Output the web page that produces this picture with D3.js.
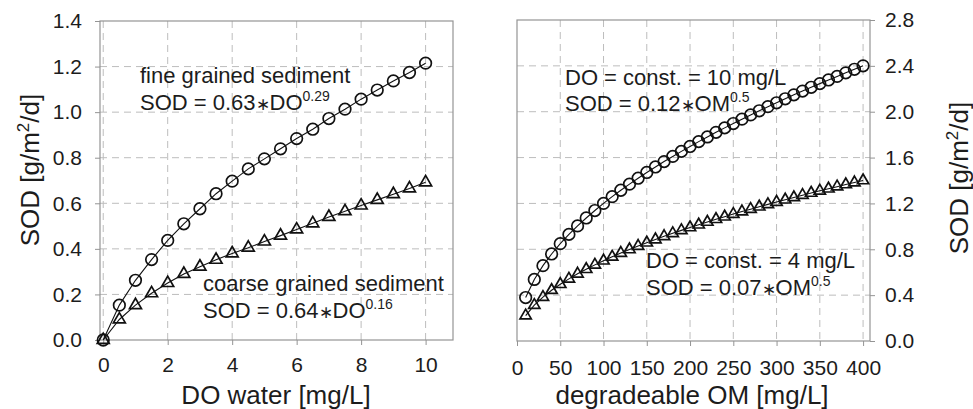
<!DOCTYPE html>
<html>
<head>
<meta charset="utf-8">
<script src="https://cdn.jsdelivr.net/npm/d3@7"></script>
<style>
  body { margin: 0; background: #fff; }
  text { font-family: "Liberation Sans", Arial, sans-serif; fill: #1c1c1c; }
</style>
</head>
<body>
<svg id="chart" width="973" height="409"></svg>
<script>
// Left panel: SOD against dissolved oxygen for two sediment types
const doWater   = [0, 0.5, 1, 1.5, 2, 2.5, 3, 3.5, 4, 4.5, 5, 5.5, 6, 6.5, 7, 7.5, 8, 8.5, 9, 9.5, 10];
const sodFine   = [0, 0.153, 0.262, 0.353, 0.437, 0.51, 0.576, 0.642, 0.697, 0.751, 0.795, 0.839, 0.884, 0.925, 0.972, 1.013, 1.057, 1.097, 1.137, 1.174, 1.215];
const sodCoarse = [0, 0.09, 0.153, 0.205, 0.25, 0.29, 0.322, 0.352, 0.38, 0.405, 0.432, 0.458, 0.485, 0.512, 0.54, 0.565, 0.59, 0.615, 0.64, 0.665, 0.692];

// Right panel: SOD against degradable organic matter at two DO levels
const omValues = [10, 20, 30, 40, 50, 60, 70, 80, 90, 100, 110, 120, 130, 140, 150, 160, 170, 180, 190, 200,
                  210, 220, 230, 240, 250, 260, 270, 280, 290, 300, 310, 320, 330, 340, 350, 360, 370, 380, 390, 400];
const sodDo10 = [0.379, 0.537, 0.657, 0.759, 0.849, 0.930, 1.004, 1.073, 1.138, 1.200, 1.259, 1.315, 1.368, 1.420, 1.470, 1.518, 1.565, 1.610, 1.654, 1.697,
                 1.739, 1.780, 1.820, 1.859, 1.897, 1.935, 1.972, 2.008, 2.044, 2.078, 2.113, 2.147, 2.180, 2.213, 2.245, 2.277, 2.308, 2.339, 2.370, 2.400];
const sodDo4  = [0.221, 0.313, 0.383, 0.443, 0.495, 0.542, 0.586, 0.626, 0.664, 0.700, 0.734, 0.767, 0.798, 0.828, 0.857, 0.885, 0.913, 0.939, 0.965, 0.990,
                 1.014, 1.038, 1.062, 1.084, 1.107, 1.129, 1.150, 1.171, 1.192, 1.212, 1.232, 1.252, 1.272, 1.291, 1.310, 1.328, 1.346, 1.365, 1.382, 1.400];

// Tick values
const leftXTicks  = [0, 2, 4, 6, 8, 10];
const leftYTicks  = [0, 0.2, 0.4, 0.6, 0.8, 1.0, 1.2, 1.4];
const rightXTicks = [0, 50, 100, 150, 200, 250, 300, 350, 400];
const rightYTicks = [0, 0.4, 0.8, 1.2, 1.6, 2.0, 2.4, 2.8];

const svg = d3.select("#chart");
const gridColor = "#bdbdbd";
const frameColor = "#949494";
const tickFont = 21;
const titleFont = 26;
const noteFont = 22;

function drawPanel(opt) {
  const g = svg.append("g");
  const x = opt.x, y = opt.y;
  const [x0, x1] = x.range();
  const [yb, yt] = y.range();

  // dashed grid
  g.append("g").selectAll("line.v").data(opt.xTicks.filter(v => x(v) > x0 + 2 && x(v) < x1 - 2))
    .join("line").attr("x1", d => x(d)).attr("x2", d => x(d)).attr("y1", yt).attr("y2", yb)
    .attr("stroke", gridColor).attr("stroke-width", 1).attr("stroke-dasharray", "7,5");
  g.append("g").selectAll("line.h").data(opt.yTicks.filter(v => y(v) < yb - 2 && y(v) > yt + 2))
    .join("line").attr("x1", x0).attr("x2", x1).attr("y1", d => y(d)).attr("y2", d => y(d))
    .attr("stroke", gridColor).attr("stroke-width", 1).attr("stroke-dasharray", "7,5");

  // frame
  g.append("rect").attr("x", x0).attr("y", yt).attr("width", x1 - x0).attr("height", yb - yt)
    .attr("fill", "none").attr("stroke", frameColor).attr("stroke-width", 1.2);

  // axes
  const xAxis = g.append("g").attr("transform", `translate(0,${yb})`)
    .call(d3.axisBottom(x).tickValues(opt.xTicks).tickSize(5).tickPadding(opt.xPad).tickFormat(d3.format("d")));
  const yAxisGen = opt.yRight ? d3.axisRight(y) : d3.axisLeft(y);
  const yAxis = g.append("g").attr("transform", `translate(${opt.yRight ? x1 : x0},0)`)
    .call(yAxisGen.tickValues(opt.yTicks).tickSize(5).tickPadding(opt.yPad).tickFormat(d3.format(".1f")));
  [xAxis, yAxis].forEach(a => {
    a.select(".domain").remove();
    a.selectAll(".tick line").attr("stroke", frameColor);
    a.selectAll(".tick text").attr("font-size", tickFont).style("font-family", '"Liberation Sans", Arial, sans-serif').attr("fill", "#1c1c1c");
  });

  // series: connecting line plus open markers
  const line = d3.line().x(d => x(d[0])).y(d => y(d[1]));
  opt.series.forEach(s => {
    const pts = opt.xs.map((v, i) => [v, s.values[i]]);
    g.append("path").datum(pts).attr("d", line).attr("fill", "none").attr("stroke", "#111").attr("stroke-width", 1.1);
    const sym = d3.symbol().type(s.shape === "circle" ? d3.symbolCircle : d3.symbolTriangle).size(s.size);
    g.append("g").selectAll("path").data(pts).join("path")
      .attr("transform", d => `translate(${x(d[0])},${y(d[1])})`)
      .attr("d", sym).attr("fill", "none").attr("stroke", "#111").attr("stroke-width", 1.7);
  });
  return g;
}

function note(g, x, y, main, base, sup) {
  const t = g.append("text").attr("x", x).attr("y", y).attr("font-size", noteFont);
  if (sup === undefined) { t.text(main); return; }
  const [pre, post] = base.split("∗");
  t.append("tspan").text(pre);
  t.append("tspan").attr("font-size", 17).text("∗");
  t.append("tspan").text(post);
  t.append("tspan").attr("dy", -9).attr("font-size", 14).text(sup);
}

// Left panel
const xL = d3.scaleLinear().domain([-0.1, 10.85]).range([100, 453]);
const yL = d3.scaleLinear().domain([0, 1.4]).range([340, 21]);
const gL = drawPanel({
  x: xL, y: yL, xTicks: leftXTicks, yTicks: leftYTicks, xPad: 12, yPad: 13, yRight: false,
  xs: doWater,
  series: [
    { values: sodFine, shape: "circle", size: 105 },
    { values: sodCoarse, shape: "triangle", size: 62 }
  ]
});
note(gL, 140, 83, "fine grained sediment");
note(gL, 140, 110, null, "SOD = 0.63∗DO", "0.29");
note(gL, 203, 291, "coarse grained sediment");
note(gL, 203, 318, null, "SOD = 0.64∗DO", "0.16");
gL.append("text").attr("x", 276).attr("y", 404).attr("text-anchor", "middle").attr("font-size", titleFont).text("DO water [mg/L]");
const yt1 = gL.append("text").attr("transform", "translate(39,170) rotate(-90)").attr("text-anchor", "middle").attr("font-size", titleFont);
yt1.append("tspan").text("SOD [g/m");
yt1.append("tspan").attr("dy", -10).attr("font-size", 17).text("2");
yt1.append("tspan").attr("dy", 10).text("/d]");

// Right panel
const xR = d3.scaleLinear().domain([0, 408]).range([517, 870]);
const yR = d3.scaleLinear().domain([0, 2.8]).range([341, 20]);
const gR = drawPanel({
  x: xR, y: yR, xTicks: rightXTicks, yTicks: rightYTicks, xPad: 14, yPad: 10, yRight: true,
  xs: omValues,
  series: [
    { values: sodDo10, shape: "circle", size: 105 },
    { values: sodDo4, shape: "triangle", size: 55 }
  ]
});
note(gR, 565, 85, "DO = const. = 10 mg/L");
note(gR, 565, 111, null, "SOD = 0.12∗OM", "0.5");
note(gR, 646, 268, "DO = const. = 4 mg/L");
note(gR, 646, 295, null, "SOD = 0.07∗OM", "0.5");
gR.append("text").attr("x", 692).attr("y", 404).attr("text-anchor", "middle").attr("font-size", titleFont).text("degradeable OM [mg/L]");
const yt2 = gR.append("text").attr("transform", "translate(968,178) rotate(-90)").attr("text-anchor", "middle").attr("font-size", titleFont);
yt2.append("tspan").text("SOD [g/m");
yt2.append("tspan").attr("dy", -10).attr("font-size", 17).text("2");
yt2.append("tspan").attr("dy", 10).text("/d]");
</script>
</body>
</html>
